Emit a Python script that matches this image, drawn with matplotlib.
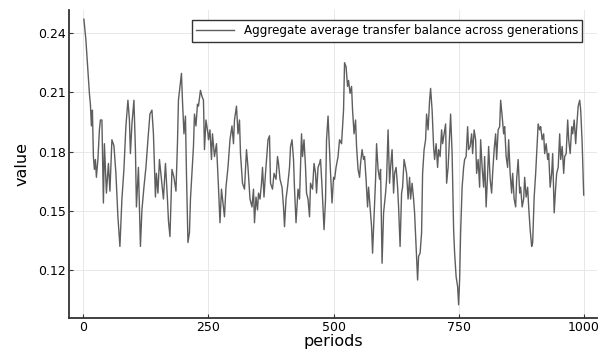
import matplotlib.pyplot as plt

# periods and values
periods = [1, 5, 10, 12, 14, 16, 18, 20, 22, 24, 26, 29, 32, 34, 37, 40, 42, 46, 50, 53,
           57, 61, 65, 69, 73, 77, 81, 85, 89, 92, 94, 97, 101, 104, 106, 110, 114, 117, 121, 125,
           129, 133, 137, 140, 144, 146, 149, 152, 156, 160, 164, 168, 170, 173, 177, 181, 185, 188, 190, 193,
           196, 198, 201, 204, 206, 209, 212, 214, 217, 220, 222, 225, 228, 230, 234, 237, 240, 242, 245, 249,
           250, 253, 256, 258, 262, 266, 270, 273, 276, 280, 282, 285, 289, 293, 297, 300, 302, 306, 309, 312,
           314, 318, 322, 326, 329, 333, 337, 340, 342, 345, 348, 350, 353, 356, 358, 361, 364, 366, 369, 372,
           374, 378, 381, 385, 388, 390, 393, 397, 400, 402, 405, 408, 412, 414, 417, 420, 422, 425, 429, 432,
           436, 438, 441, 444, 446, 449, 452, 454, 458, 461, 464, 466, 469, 472, 474, 477, 481, 484, 486, 489,
           492, 494, 497, 500, 502, 505, 509, 512, 516, 520, 522, 525, 528, 530, 533, 536, 538, 541, 544, 546,
           549, 552, 554, 557, 560, 562, 565, 568, 570, 573, 576, 578, 581, 584, 586, 589, 592, 594, 597, 600,
           604, 606, 609, 612, 614, 617, 620, 622, 625, 628, 630, 633, 636, 638, 641, 644, 646, 649, 652, 654,
           657, 660, 662, 665, 668, 670, 673, 676, 678, 681, 684, 686, 689, 692, 694, 697, 700, 702, 705, 708,
           710, 713, 716, 718, 721, 724, 726, 729, 732, 734, 737, 740, 742, 745, 748, 750, 752, 754, 757, 760,
           762, 765, 768, 770, 773, 776, 778, 781, 784, 786, 789, 792, 794, 797, 800, 802, 805, 808, 810, 813,
           816, 818, 821, 824, 826, 829, 832, 834, 837, 840, 842, 845, 848, 850, 853, 856, 858, 861, 864, 866,
           869, 872, 874, 877, 880, 882, 885, 888, 890, 893, 896, 898, 901, 904, 906, 909, 912, 914, 917, 920,
           922, 925, 928, 930, 933, 936, 938, 941, 944, 946, 949, 952, 954, 957, 960, 962, 965, 968, 970, 973,
           976, 978, 981, 984, 986, 989, 992, 994, 997, 1000]

balance = [0.247, 0.2365, 0.217, 0.2095, 0.204, 0.193, 0.201, 0.1775, 0.171, 0.176, 0.167, 0.176, 0.191, 0.196, 0.196, 0.154, 0.184, 0.159, 0.174, 0.160,
           0.186, 0.183, 0.169, 0.147, 0.132, 0.156, 0.171, 0.193, 0.206, 0.196, 0.179, 0.194, 0.206, 0.181, 0.152, 0.172, 0.132, 0.1505, 0.162, 0.172,
           0.186, 0.199, 0.201, 0.189, 0.157, 0.169, 0.159, 0.176, 0.166, 0.156, 0.174, 0.156, 0.145, 0.137, 0.171, 0.167, 0.160, 0.184, 0.206, 0.213,
           0.2196, 0.206, 0.189, 0.198, 0.169, 0.134, 0.139, 0.156, 0.169, 0.1825, 0.199, 0.193, 0.204, 0.203, 0.211, 0.208, 0.206, 0.181, 0.196, 0.189,
           0.186, 0.191, 0.176, 0.189, 0.1775, 0.184, 0.162, 0.144, 0.161, 0.152, 0.147, 0.162, 0.172, 0.186, 0.193, 0.184, 0.196, 0.203, 0.189, 0.196,
           0.179, 0.164, 0.161, 0.181, 0.172, 0.156, 0.152, 0.161, 0.144, 0.157, 0.1505, 0.159, 0.156, 0.164, 0.172, 0.157, 0.169, 0.176, 0.186, 0.188,
           0.164, 0.161, 0.169, 0.166, 0.1775, 0.174, 0.166, 0.162, 0.152, 0.142, 0.156, 0.162, 0.172, 0.1825, 0.186, 0.176, 0.161, 0.144, 0.161, 0.156,
           0.189, 0.1775, 0.186, 0.172, 0.159, 0.156, 0.147, 0.164, 0.161, 0.174, 0.169, 0.159, 0.172, 0.174, 0.176, 0.162, 0.1405, 0.156, 0.186, 0.198,
           0.181, 0.169, 0.154, 0.167, 0.166, 0.172, 0.1775, 0.186, 0.184, 0.201, 0.225, 0.223, 0.213, 0.216, 0.2095, 0.213, 0.201, 0.189, 0.196, 0.1826,
           0.171, 0.167, 0.174, 0.181, 0.176, 0.1775, 0.166, 0.152, 0.162, 0.152, 0.142, 0.1286, 0.147, 0.166, 0.184, 0.171, 0.166, 0.171, 0.1235, 0.149,
           0.159, 0.166, 0.191, 0.164, 0.172, 0.181, 0.159, 0.169, 0.172, 0.162, 0.152, 0.132, 0.159, 0.162, 0.176, 0.172, 0.169, 0.156, 0.167, 0.156,
           0.164, 0.156, 0.149, 0.132, 0.115, 0.127, 0.1286, 0.139, 0.169, 0.181, 0.186, 0.199, 0.191, 0.206, 0.212, 0.201, 0.1825, 0.176, 0.184, 0.172,
           0.181, 0.1775, 0.191, 0.184, 0.189, 0.194, 0.164, 0.172, 0.188, 0.199, 0.179, 0.1405, 0.1286, 0.1167, 0.1117, 0.1025, 0.115, 0.139, 0.162, 0.172,
           0.176, 0.1775, 0.1926, 0.181, 0.1826, 0.189, 0.179, 0.191, 0.186, 0.169, 0.176, 0.162, 0.186, 0.172, 0.162, 0.1775, 0.152, 0.169, 0.1826, 0.166,
           0.159, 0.169, 0.181, 0.189, 0.176, 0.191, 0.1926, 0.206, 0.198, 0.189, 0.1926, 0.1775, 0.172, 0.186, 0.169, 0.159, 0.169, 0.156, 0.152, 0.166,
           0.176, 0.159, 0.162, 0.152, 0.156, 0.167, 0.157, 0.162, 0.152, 0.1405, 0.132, 0.134, 0.157, 0.169, 0.179, 0.194, 0.191, 0.1926, 0.186, 0.189,
           0.179, 0.184, 0.176, 0.179, 0.162, 0.169, 0.179, 0.149, 0.162, 0.169, 0.172, 0.189, 0.176, 0.1826, 0.169, 0.1775, 0.179, 0.196, 0.186, 0.179,
           0.1926, 0.189, 0.196, 0.184, 0.1926, 0.203, 0.206, 0.201, 0.184, 0.158]

xticks = [0, 250, 500, 750, 1000]
yticks = [0.12, 0.15, 0.18, 0.21, 0.24]
ytick_labels = ["0.12", "0.15", "0.18", "0.21", "0.24"]

fig = plt.figure(figsize=(5.99, 3.5), dpi=100)
ax = fig.add_axes([0.115, 0.091, 0.882, 0.88])

ax.plot(periods, balance, color="#5e5e5e", linewidth=1.0,
        label="Aggregate average transfer balance across generations")

ax.set_xlim(-29, 1027)
ax.set_ylim(0.0957, 0.2516)
ax.set_xticks(xticks)
ax.set_yticks(yticks)
ax.set_yticklabels(ytick_labels)
ax.grid(True, color="#e8e8e8", linewidth=0.7)
ax.set_axisbelow(True)

for side in ["top", "right"]:
    ax.spines[side].set_visible(False)
for side in ["left", "bottom"]:
    ax.spines[side].set_color("#333333")
    ax.spines[side].set_linewidth(1.3)

ax.tick_params(direction="in", length=3, width=0.8, color="#333333", labelsize=9, pad=2)
ax.set_xlabel("periods", fontsize=11.5, labelpad=0)
ax.set_ylabel("value", fontsize=11.5, labelpad=6)

leg = ax.legend(loc="upper right", fontsize=8.6, fancybox=False, framealpha=1,
                edgecolor="#333333", handlelength=3.2, borderpad=0.35,
                borderaxespad=0, bbox_to_anchor=(0.9716, 0.9675))
leg.get_frame().set_linewidth(1.0)

fig.savefig("out.png", dpi=100)
